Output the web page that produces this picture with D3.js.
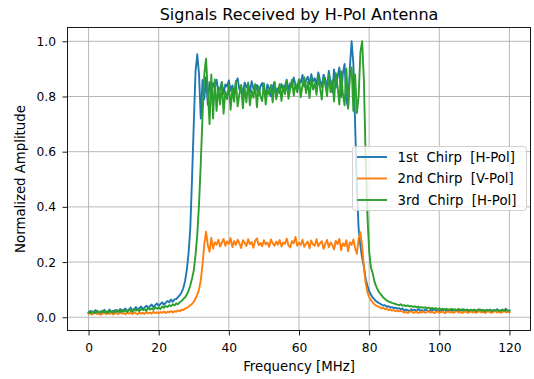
<!DOCTYPE html>
<html>
<head>
<meta charset="utf-8">
<script src="https://cdn.jsdelivr.net/npm/d3@7"></script>
<style>
  html, body { margin: 0; padding: 0; background: #fff; }
  svg { display: block; font-family: "DejaVu Sans", sans-serif; }
</style>
</head>
<body>
<svg id="chart" width="534" height="379"></svg>
<script>
// Sampling grid: spectrum bins every 0.5 MHz from 0 to 120 MHz
const freqStart = 0;
const freqStop = 120;
const freqStep = 0.5;

// 1st chirp, received on the H-Pol port
const chirp1HPol = [
  0.016,0.023,0.014,0.019,0.026,0.017,0.013,0.022,0.018,0.027,
  0.016,0.021,0.028,0.019,0.023,0.015,0.026,0.021,0.030,0.020,
  0.025,0.032,0.021,0.027,0.035,0.024,0.029,0.037,0.026,0.033,
  0.039,0.029,0.036,0.042,0.033,0.040,0.046,0.036,0.044,0.050,
  0.041,0.048,0.054,0.045,0.053,0.059,0.054,0.064,0.056,0.065,
  0.066,0.073,0.080,0.090,0.105,0.130,0.170,0.230,0.320,0.500,
  0.700,0.890,0.953,0.880,0.720,0.860,0.790,0.870,0.770,0.852,
  0.815,0.848,0.832,0.861,0.818,0.829,0.852,0.809,0.844,0.836,
  0.858,0.821,0.840,0.812,0.849,0.866,0.826,0.838,0.807,0.851,
  0.833,0.846,0.814,0.855,0.828,0.819,0.842,0.805,0.837,0.849,
  0.822,0.810,0.844,0.828,0.801,0.836,0.852,0.817,0.830,0.812,
  0.845,0.826,0.838,0.861,0.822,0.848,0.835,0.869,0.841,0.826,
  0.862,0.850,0.878,0.836,0.859,0.872,0.845,0.881,0.853,0.866,
  0.842,0.887,0.858,0.835,0.879,0.864,0.828,0.893,0.850,0.815,
  0.898,0.832,0.872,0.905,0.798,0.884,0.918,0.785,0.760,0.905,
  1.000,0.920,0.700,0.470,0.320,0.260,0.215,0.185,0.140,0.115,
  0.095,0.082,0.072,0.065,0.058,0.054,0.050,0.046,0.042,0.044,
  0.038,0.040,0.035,0.037,0.033,0.035,0.031,0.033,0.029,0.032,
  0.024,0.028,0.026,0.022,0.029,0.025,0.027,0.023,0.030,0.024,
  0.026,0.022,0.028,0.025,0.021,0.027,0.024,0.030,0.023,0.026,
  0.022,0.027,0.024,0.029,0.021,0.025,0.028,0.022,0.026,0.023,
  0.027,0.021,0.025,0.029,0.022,0.026,0.024,0.020,0.027,0.023,
  0.025,0.021,0.028,0.023,0.026,0.020,0.024,0.027,0.022,0.025,
  0.021,0.026,0.023,0.029,0.022,0.025,0.020,0.024,0.031,0.022,
  0.023
];

// 2nd chirp, cross-polarised (V-Pol) and picked up by the H-Pol antenna
const chirp2VPol = [
  0.012,0.016,0.010,0.014,0.018,0.011,0.015,0.009,0.013,0.017,
  0.011,0.015,0.012,0.018,0.010,0.014,0.016,0.011,0.019,0.013,
  0.015,0.011,0.017,0.013,0.016,0.012,0.018,0.014,0.011,0.017,
  0.013,0.016,0.012,0.019,0.014,0.017,0.013,0.020,0.015,0.018,
  0.014,0.019,0.016,0.021,0.015,0.020,0.018,0.023,0.017,0.022,
  0.020,0.025,0.022,0.027,0.026,0.031,0.034,0.038,0.044,0.048,
  0.056,0.068,0.082,0.100,0.135,0.190,0.265,0.310,0.262,0.237,
  0.288,0.249,0.272,0.263,0.281,0.256,0.270,0.284,0.259,0.275,
  0.266,0.287,0.254,0.276,0.262,0.281,0.268,0.251,0.279,0.270,
  0.258,0.283,0.265,0.273,0.252,0.277,0.286,0.261,0.269,0.257,
  0.279,0.264,0.271,0.255,0.282,0.268,0.259,0.274,0.263,0.280,
  0.256,0.271,0.266,0.285,0.260,0.253,0.276,0.268,0.291,0.259,
  0.270,0.262,0.281,0.255,0.267,0.274,0.250,0.278,0.264,0.259,
  0.283,0.257,0.269,0.276,0.248,0.266,0.280,0.254,0.271,0.262,
  0.246,0.277,0.265,0.284,0.243,0.268,0.258,0.279,0.239,0.272,
  0.262,0.282,0.250,0.230,0.285,0.308,0.260,0.180,0.125,0.092,
  0.074,0.062,0.054,0.047,0.042,0.039,0.036,0.032,0.034,0.029,
  0.031,0.026,0.028,0.024,0.026,0.022,0.024,0.021,0.023,0.020,
  0.017,0.020,0.015,0.019,0.022,0.016,0.018,0.021,0.015,0.019,
  0.017,0.021,0.016,0.019,0.023,0.017,0.020,0.015,0.018,0.022,
  0.016,0.019,0.021,0.015,0.018,0.022,0.017,0.020,0.016,0.019,
  0.023,0.017,0.020,0.015,0.019,0.021,0.016,0.018,0.022,0.017,
  0.020,0.016,0.019,0.023,0.017,0.021,0.015,0.019,0.022,0.018,
  0.016,0.020,0.023,0.017,0.021,0.016,0.019,0.024,0.018,0.020,
  0.017
];

// 3rd chirp, received on the H-Pol port
const chirp3HPol = [
  0.018,0.014,0.022,0.017,0.015,0.023,0.019,0.016,0.024,0.018,
  0.021,0.015,0.024,0.019,0.017,0.026,0.020,0.023,0.018,0.027,
  0.021,0.025,0.019,0.028,0.023,0.020,0.030,0.024,0.027,0.022,
  0.031,0.026,0.029,0.024,0.034,0.028,0.032,0.027,0.036,0.031,
  0.035,0.030,0.039,0.034,0.041,0.037,0.044,0.040,0.047,0.043,
  0.050,0.047,0.055,0.058,0.066,0.072,0.082,0.095,0.115,0.140,
  0.170,0.225,0.300,0.410,0.560,0.730,0.880,0.937,0.820,0.700,
  0.880,0.720,0.862,0.748,0.835,0.771,0.852,0.738,0.818,0.790,
  0.846,0.752,0.829,0.781,0.856,0.764,0.808,0.842,0.757,0.833,
  0.779,0.851,0.768,0.822,0.795,0.845,0.761,0.836,0.802,0.783,
  0.848,0.771,0.826,0.806,0.842,0.779,0.853,0.790,0.818,0.845,
  0.784,0.839,0.808,0.856,0.792,0.828,0.861,0.803,0.847,0.815,
  0.862,0.798,0.841,0.870,0.812,0.853,0.794,0.866,0.825,0.848,
  0.806,0.874,0.831,0.789,0.868,0.842,0.801,0.879,0.816,0.858,
  0.782,0.884,0.835,0.771,0.892,0.809,0.768,0.901,0.756,0.872,
  0.905,0.748,0.880,0.740,0.800,0.960,1.000,0.860,0.580,0.370,
  0.240,0.180,0.160,0.130,0.112,0.098,0.088,0.080,0.072,0.066,
  0.061,0.057,0.055,0.052,0.050,0.048,0.046,0.044,0.047,0.042,
  0.044,0.040,0.043,0.039,0.041,0.037,0.040,0.036,0.039,0.035,
  0.037,0.034,0.036,0.033,0.035,0.031,0.034,0.030,0.033,0.029,
  0.032,0.028,0.031,0.027,0.030,0.029,0.026,0.031,0.027,0.029,
  0.025,0.030,0.027,0.024,0.029,0.026,0.028,0.024,0.027,0.025,
  0.028,0.023,0.026,0.029,0.024,0.027,0.022,0.026,0.025,0.028,
  0.023,0.026,0.024,0.027,0.022,0.025,0.028,0.023,0.026,0.024,
  0.025
];

const seriesNames = ["1st  Chirp  [H-Pol]", "2nd Chirp  [V-Pol]", "3rd  Chirp  [H-Pol]"];
const seriesColors = ["#1f77b4", "#ff7f0e", "#2ca02c"];
const xTicks = [0, 20, 40, 60, 80, 100, 120];
const yTicks = [0.0, 0.2, 0.4, 0.6, 0.8, 1.0];

const titleText = "Signals Received by H-Pol Antenna";
const xLabelText = "Frequency [MHz]";
const yLabelText = "Normalized Amplitude";

const freqs = d3.range(freqStart, freqStop + freqStep / 2, freqStep);
const series = [chirp1HPol, chirp2VPol, chirp3HPol];

const svg = d3.select("#chart");
const frame = { left: 67.5, right: 530.5, top: 27.5, bottom: 330.5 };

const x = d3.scaleLinear().domain([-6, 126]).range([frame.left, frame.right]);
const y = d3.scaleLinear().domain([-0.048, 1.05]).range([frame.bottom, frame.top]);

// grid
const grid = svg.append("g").attr("stroke", "#b0b0b0").attr("stroke-width", 0.9);
grid.selectAll(".gx").data(xTicks).join("line")
  .attr("x1", d => x(d)).attr("x2", d => x(d))
  .attr("y1", frame.top).attr("y2", frame.bottom);
grid.selectAll(".gy").data(yTicks).join("line")
  .attr("y1", d => y(d)).attr("y2", d => y(d))
  .attr("x1", frame.left).attr("x2", frame.right);

// traces
const plot = svg.append("g");
plot.append("clipPath").attr("id", "clip").append("rect")
  .attr("x", frame.left).attr("y", frame.top)
  .attr("width", frame.right - frame.left).attr("height", frame.bottom - frame.top);
const line = d3.line().x((d, i) => x(freqs[i])).y(d => y(d));
series.forEach((vals, k) => {
  plot.append("path")
    .attr("clip-path", "url(#clip)")
    .attr("d", line(vals))
    .attr("fill", "none")
    .attr("stroke", seriesColors[k])
    .attr("stroke-width", 1.9)
    .attr("stroke-linejoin", "round")
    .attr("stroke-linecap", "square");
});

// axes
const xAxis = svg.append("g")
  .attr("transform", `translate(0,${frame.bottom})`)
  .call(d3.axisBottom(x).tickValues(xTicks).tickFormat(d3.format("d")).tickSize(5).tickPadding(8).tickSizeOuter(0));
const yAxis = svg.append("g")
  .attr("transform", `translate(${frame.left},0)`)
  .call(d3.axisLeft(y).tickValues(yTicks).tickFormat(d3.format(".1f")).tickSize(5).tickPadding(6.5).tickSizeOuter(0));
[xAxis, yAxis].forEach(a => {
  a.select(".domain").remove();
  a.selectAll(".tick line").attr("stroke", "#000").attr("stroke-width", 0.9);
  a.selectAll(".tick text")
    .attr("fill", "#000")
    .attr("font-family", "DejaVu Sans")
    .attr("font-size", 12.3);
});

// axes frame
svg.append("rect")
  .attr("x", frame.left).attr("y", frame.top)
  .attr("width", frame.right - frame.left).attr("height", frame.bottom - frame.top)
  .attr("fill", "none").attr("stroke", "#000").attr("stroke-width", 0.9);

// title and axis labels
svg.append("text")
  .attr("x", (frame.left + frame.right) / 2).attr("y", 19.5)
  .attr("text-anchor", "middle").attr("font-size", 16).attr("fill", "#000")
  .text(titleText);
svg.append("text")
  .attr("x", (frame.left + frame.right) / 2).attr("y", 371)
  .attr("text-anchor", "middle").attr("font-size", 13.3).attr("fill", "#000")
  .text(xLabelText);
svg.append("text")
  .attr("transform", `translate(25,${(frame.top + frame.bottom) / 2}) rotate(-90)`)
  .attr("text-anchor", "middle").attr("font-size", 13.3).attr("fill", "#000")
  .text(yLabelText);

// legend
const legend = svg.append("g").attr("transform", "translate(352.5,146.5)");
legend.append("rect")
  .attr("width", 174).attr("height", 64).attr("rx", 3)
  .attr("fill", "#fff").attr("fill-opacity", 0.8)
  .attr("stroke", "#cccccc").attr("stroke-width", 0.9);
seriesNames.forEach((name, k) => {
  const gy = 10.5 + k * 21.5;
  legend.append("line")
    .attr("x1", 4.5).attr("x2", 34.5).attr("y1", gy).attr("y2", gy)
    .attr("stroke", seriesColors[k]).attr("stroke-width", 1.9);
  legend.append("text")
    .attr("x", 45).attr("y", gy).attr("dy", "0.36em")
    .attr("font-size", 13.3).attr("fill", "#000")
    .style("white-space", "pre")
    .text(name);
});
</script>
</body>
</html>
